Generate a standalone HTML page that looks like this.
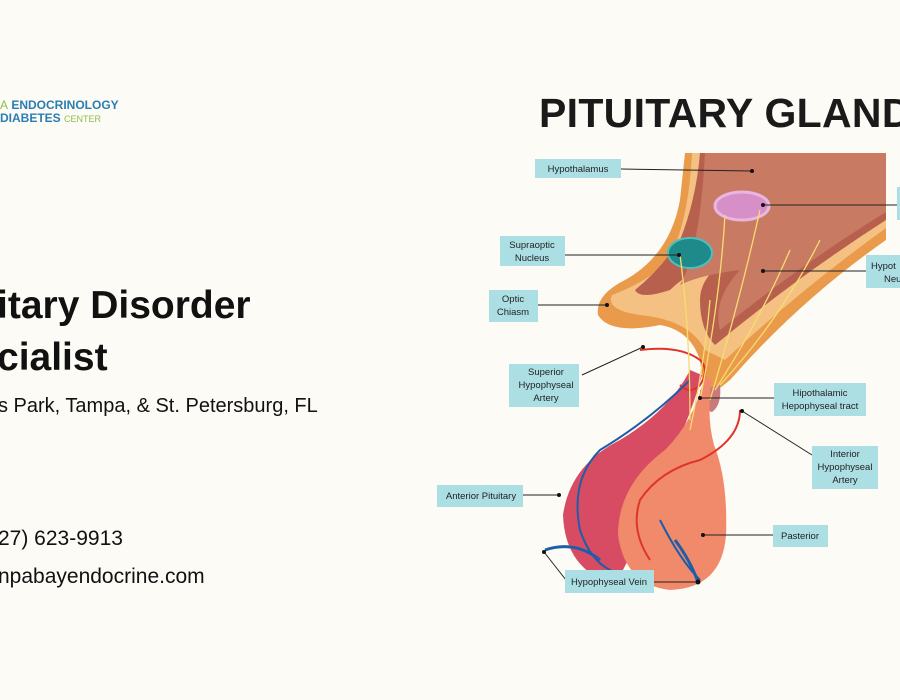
<!DOCTYPE html>
<html><head><meta charset="utf-8"><style>
html,body{margin:0;padding:0;background:#fcfbf6;}
body{width:900px;height:700px;overflow:hidden;position:relative;font-family:"Liberation Sans",sans-serif;}
.t{position:absolute;white-space:nowrap;color:#111;}
</style></head><body>
<div class="t" style="left:0;top:99px;font-size:12px;font-weight:bold;color:#2a7db4;line-height:13px;"><span style="color:#8cbf4a;font-weight:normal">A</span> ENDOCRINOLOGY<br>DIABETES <span style="color:#8cbf4a;font-weight:normal;font-size:9px">CENTER</span></div>
<div class="t" style="left:-3px;top:280px;font-size:39px;font-weight:bold;line-height:52px;">itary Disorder<br>cialist</div>
<div class="t" style="left:-2px;top:395px;font-size:20px;">s Park, Tampa, &amp; St. Petersburg, FL</div>
<div class="t" style="left:-2px;top:527px;font-size:21px;">27) 623-9913</div>
<div class="t" style="left:-2px;top:565px;font-size:21px;">npabayendocrine.com</div>
<div class="t" style="left:539px;top:90px;font-size:41px;font-weight:bold;color:#1a1a1a;letter-spacing:0.3px;">PITUITARY GLAND</div>
<svg width="900" height="700" style="position:absolute;left:0;top:0" font-family="Liberation Sans, sans-serif" font-size="9.5" fill="#222">
<path d="M685,153 L886,153 L886,240 Q800,300 730,380 L705,400 L700,360 Q690,330 660,325 Q610,335 598,315 Q595,295 625,280 Q670,255 680,200 Z" fill="#e99a4a"/>
<path d="M692,153 L886,153 L886,228 Q800,290 725,360 L705,350 Q690,320 640,315 Q605,310 612,295 Q640,285 665,265 Q688,230 692,153Z" fill="#f4c183"/>
<path d="M700,153 L886,153 L886,220 Q800,275 715,345 Q700,330 700,300 Q700,280 720,265 Q690,270 670,290 Q640,300 635,290 Q660,270 680,240 Q696,200 700,153Z" fill="#b8604e"/>
<path d="M705,153 L886,153 L886,212 Q800,265 720,330 Q712,300 740,270 Q700,275 680,285 Q700,250 705,153Z" fill="#c97a63"/>
<ellipse cx="742" cy="206" rx="27" ry="14" fill="#d78fc7" stroke="#e8b6df" stroke-width="3"/>
<ellipse cx="690" cy="253" rx="22" ry="15" fill="#1e8a8a" stroke="#4cc0c0" stroke-width="2"/>
<path d="M700,390 Q700,410 712,412 Q722,405 720,385Z" fill="#c97a7a"/>
<path d="M690,370 Q670,410 620,440 Q570,465 563,515 Q565,570 615,585 Q640,540 660,480 Q690,420 702,375Z" fill="#d84c63"/>
<path d="M705,375 Q695,420 665,450 Q618,485 618,535 Q625,585 670,590 Q722,588 726,535 Q728,480 714,445 Q706,415 712,380Z" fill="#f08a6a"/>
<g fill="none" stroke-width="2">
<path d="M640,350 Q680,345 700,360 Q710,370 700,385 Q690,395 680,385" stroke="#e0342b"/>
<path d="M740,410 Q740,440 700,460 Q660,470 640,500 Q630,530 650,560" stroke="#e0342b"/>
<path d="M690,380 Q650,420 600,450 Q570,480 580,530 Q590,560 610,570 L598,590" stroke="#1f5da8"/>
<path d="M660,520 Q680,560 700,580" stroke="#1f5da8"/>
<path d="M545,550 Q575,540 600,560" stroke="#1f5da8" stroke-width="3"/>
<path d="M675,540 Q690,560 698,582" stroke="#1f5da8" stroke-width="3"/>
<path d="M710,300 Q705,360 690,430 M725,215 Q720,300 700,400 M760,210 Q740,300 710,400 M790,250 Q760,320 715,390 M820,240 Q780,320 720,385 M680,255 Q690,330 690,420" stroke="#f7dc6f" stroke-width="1.3"/>
</g>
<g stroke="#222" stroke-width="1">
<line x1="621" y1="169" x2="752" y2="171"/><line x1="565" y1="255" x2="679" y2="255"/>
<line x1="538" y1="305" x2="607" y2="305"/><line x1="582" y1="375" x2="643" y2="347"/>
<line x1="700" y1="398" x2="774" y2="398"/><line x1="742" y1="411" x2="812" y2="455"/>
<line x1="523" y1="495" x2="559" y2="495"/><line x1="703" y1="535" x2="773" y2="535"/>
<line x1="544" y1="552" x2="566" y2="580"/><line x1="654" y1="582" x2="698" y2="582"/>
<line x1="763" y1="205" x2="897" y2="205"/><line x1="763" y1="271" x2="866" y2="271"/>
</g>
<g fill="#111"><circle cx="752" cy="171" r="2"/><circle cx="679" cy="255" r="2"/><circle cx="607" cy="305" r="2"/><circle cx="643" cy="347" r="2"/><circle cx="700" cy="398" r="2"/><circle cx="742" cy="411" r="2"/><circle cx="559" cy="495" r="2"/><circle cx="703" cy="535" r="2"/><circle cx="544" cy="552" r="2"/><circle cx="698" cy="582" r="2.5"/><circle cx="763" cy="205" r="2"/><circle cx="763" cy="271" r="2"/></g>
<g fill="#acdfe4">
<rect x="535" y="159" width="86" height="19"/><rect x="500" y="236" width="65" height="30"/>
<rect x="489" y="290" width="49" height="32"/><rect x="509" y="364" width="70" height="43"/>
<rect x="774" y="383" width="92" height="33"/><rect x="812" y="446" width="66" height="43"/>
<rect x="437" y="485" width="86" height="22"/><rect x="773" y="525" width="55" height="22"/>
<rect x="565" y="570" width="89" height="23"/><rect x="897" y="187" width="5" height="33"/>
<rect x="866" y="255" width="36" height="33"/>
</g>
<g text-anchor="middle">
<text x="578" y="172">Hypothalamus</text>
<text x="532" y="248">Supraoptic</text><text x="532" y="261">Nucleus</text>
<text x="513" y="302">Optic</text><text x="513" y="315">Chiasm</text>
<text x="546" y="375">Superior</text><text x="546" y="388">Hypophyseal</text><text x="546" y="401">Artery</text>
<text x="820" y="396">Hipothalamic</text><text x="820" y="409">Hepophyseal tract</text>
<text x="845" y="457">Interior</text><text x="845" y="470">Hypophyseal</text><text x="845" y="483">Artery</text>
<text x="481" y="499">Anterior Pituitary</text>
<text x="800" y="539">Pasterior</text>
<text x="609" y="585">Hypophyseal Vein</text>
</g>
<text x="871" y="269">Hypot</text><text x="884" y="282">Neu</text>
</svg>
</body></html>
